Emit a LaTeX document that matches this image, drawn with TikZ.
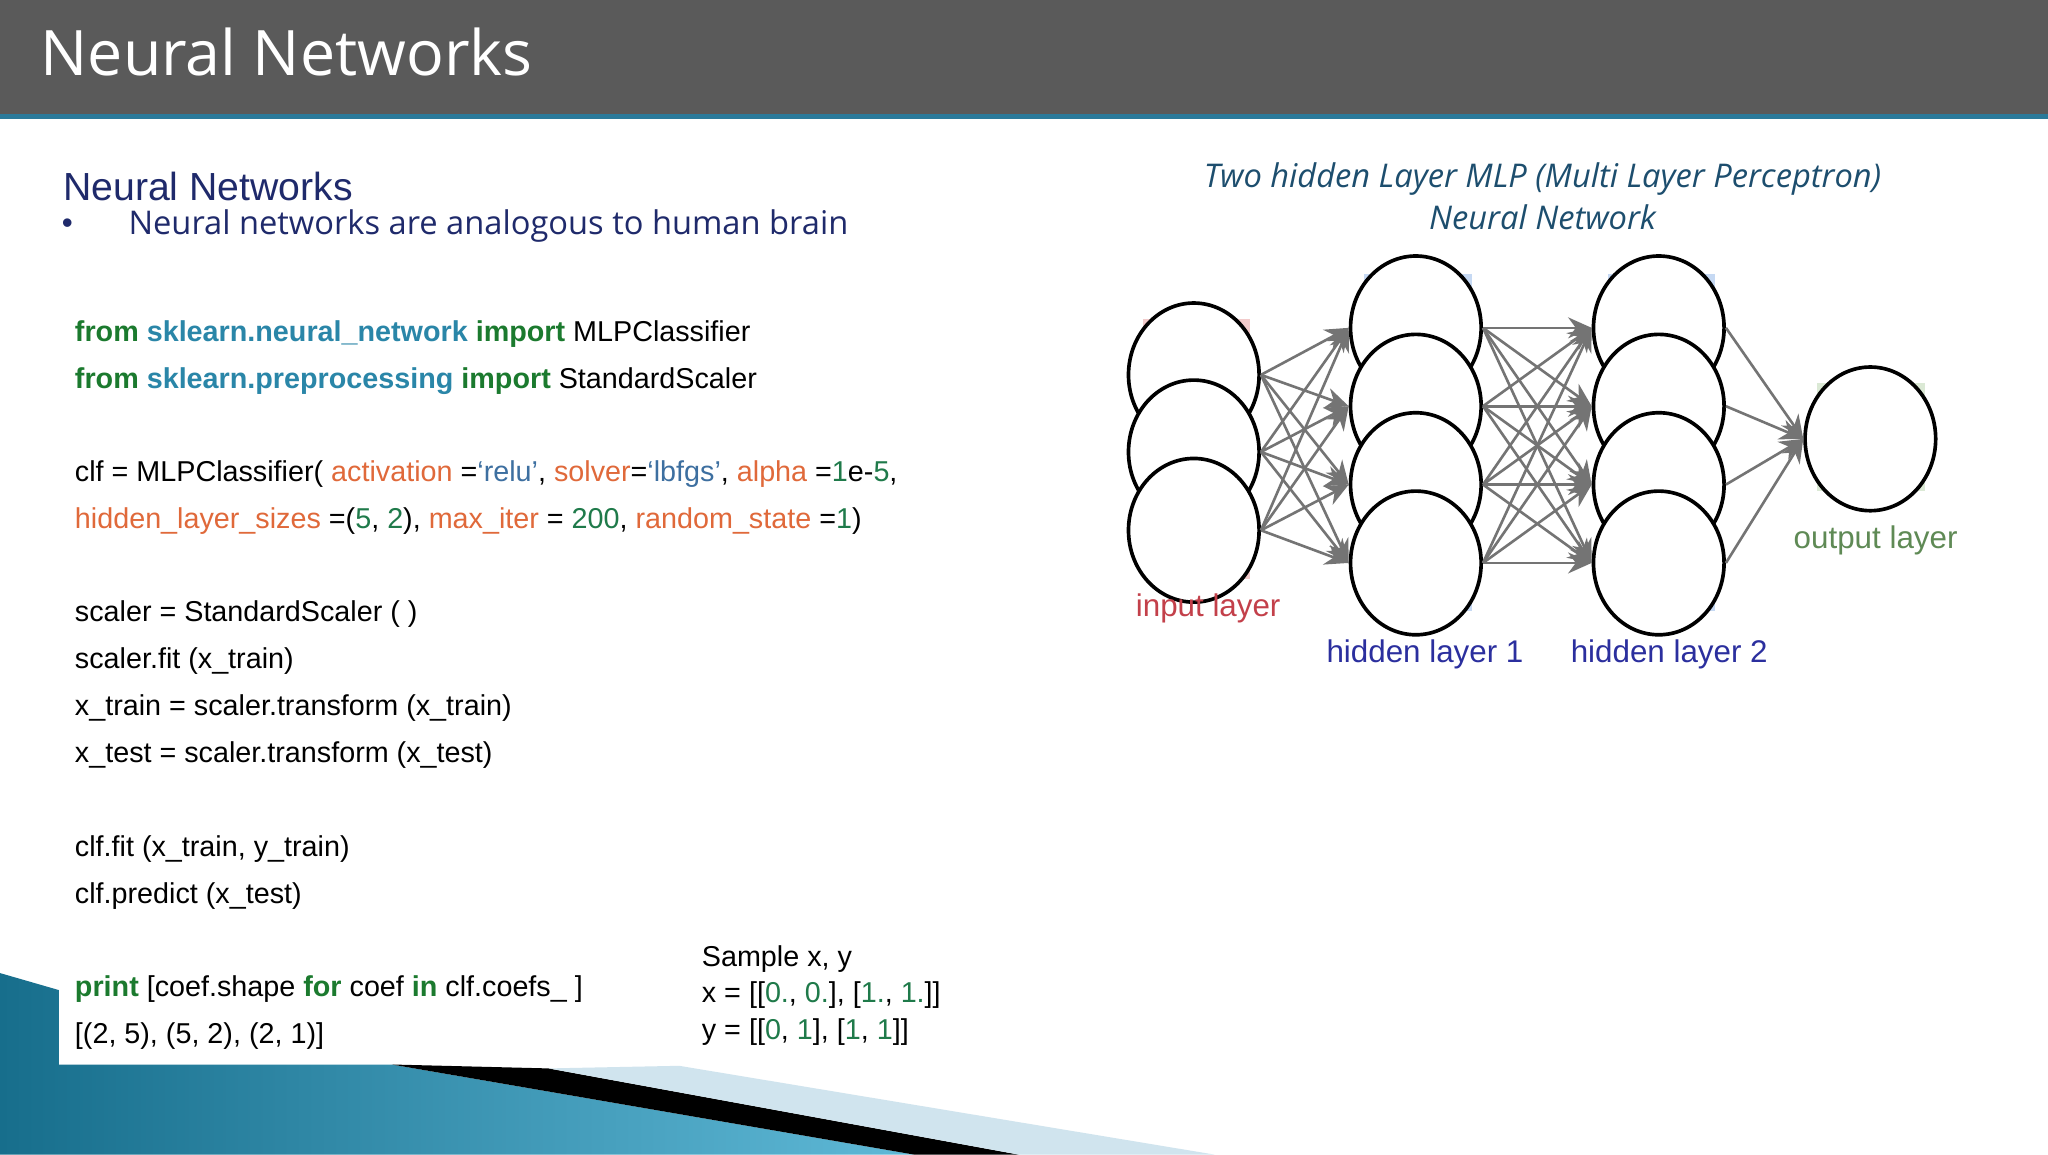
\documentclass[tikz,border=0pt]{standalone}
\usepackage{fontspec}
\setmainfont{Liberation Sans}
\newfontfamily\titlefont{Open Sans}
\usetikzlibrary{arrows.meta,shapes.geometric}
\definecolor{hdr}{HTML}{5A5A5A}
\definecolor{hdrline}{HTML}{2B7A9A}
\definecolor{navy}{HTML}{1F2A6B}
\definecolor{kw}{HTML}{1B7A2E}
\definecolor{mod}{HTML}{2A86A8}
\definecolor{par}{HTML}{E0693A}
\definecolor{str}{HTML}{3D6FA0}
\definecolor{num}{HTML}{1F7A4A}
\definecolor{ttl}{HTML}{1D4E6E}
\definecolor{inl}{HTML}{C3404A}
\definecolor{hidl}{HTML}{2B2F9E}
\definecolor{outl}{HTML}{5F8A55}
\definecolor{edge}{HTML}{747474}
\definecolor{tealA}{HTML}{176E8C}
\definecolor{tealB}{HTML}{5FB9D7}
\definecolor{lblue}{HTML}{D0E4EE}
\definecolor{pinkbg}{HTML}{F2CBCB}
\definecolor{bluebg}{HTML}{C6D9F3}
\definecolor{greenbg}{HTML}{DBE9D5}
\tikzset{
 code/.style={anchor=west,font=\fontsize{11}{13}\selectfont,inner sep=0pt},
 neuron/.style={draw=black,line width=1.4pt,fill=white,ellipse,minimum width=50,minimum height=55,inner sep=0pt},
 conn/.style={draw=edge,line width=1pt,-{Stealth[length=9,width=8]}},
 lab/.style={font=\fontsize{12}{14}\selectfont},
}
\newcommand{\K}[1]{\textcolor{kw}{\textbf{#1}}}
\newcommand{\M}[1]{\textcolor{mod}{\textbf{#1}}}
\newcommand{\Pa}[1]{\textcolor{par}{#1}}
\newcommand{\Nu}[1]{\textcolor{num}{#1}}
\newcommand{\St}[1]{\textcolor{str}{#1}}
\begin{document}
\begin{tikzpicture}[x=0.5pt,y=-0.5pt]
\useasboundingbox (0,0) rectangle (1568,884);
\fill[white] (0,0) rectangle (1568,884);
% header
\fill[hdr] (0,0) rectangle (1568,88);
\fill[hdrline] (0,87) rectangle (1568,91);
\node[anchor=west,text=white,font=\titlefont\fontsize{24}{28}\selectfont] (title) at (24,40) {Neural Networks};
% bottom decoration
\shade[left color=tealA, right color=tealB]
 (0,745) -- (45,758) -- (45,815) -- (300,815) -- (700,884) -- (0,884) -- cycle;
\fill[black] (300,815) -- (420,818) -- (780,884) -- (700,884) -- cycle;
\fill[lblue] (420,818) -- (520,816) -- (930,884) -- (780,884) -- cycle;
% left text
\node[anchor=west,text=navy,font=\fontsize{15}{18}\selectfont,inner sep=0pt] (sub) at (48,143) {Neural Networks};
\node[anchor=west,text=navy,font=\fontsize{12}{14}\selectfont,inner sep=0pt] (bul) at (47,173) {•};
\node[anchor=west,text=navy,font=\titlefont\fontsize{12.5}{15}\selectfont,inner sep=0pt] (bt) at (98,173) {Neural networks are analogous to human brain};
\node[code] (c1) at (57,256) {\K{from} \M{sklearn.neural\_network} \K{import} MLPClassifier};
\node[code] (c2) at (57,292) {\K{from} \M{sklearn.preprocessing} \K{import} StandardScaler};
\node[code] (c3) at (57,363) {clf = MLPClassifier( \Pa{activation} =\St{‘relu’}, \Pa{solver}=\St{‘lbfgs’}, \Pa{alpha} =\Nu{1}e-\Nu{5},};
\node[code] (c4) at (57,399) {\Pa{hidden\_layer\_sizes} =(\Nu{5}, \Nu{2}), \Pa{max\_iter} = \Nu{200}, \Pa{random\_state} =\Nu{1})};
\node[code] (c5) at (57,470) {scaler = StandardScaler ( )};
\node[code] (c6) at (57,506) {scaler.fit (x\_train)};
\node[code] (c7) at (57,542) {x\_train = scaler.transform (x\_train)};
\node[code] (c8) at (57,578) {x\_test = scaler.transform (x\_test)};
\node[code] (c9) at (57,650) {clf.fit (x\_train, y\_train)};
\node[code] (c10) at (57,686) {clf.predict (x\_test)};
\node[code] (c11) at (57,757) {\K{print} [coef.shape \K{for} coef \K{in} clf.coefs\_ ]};
\node[code] (c12) at (57,793) {[(2, 5), (5, 2), (2, 1)]};
\node[code] (s1) at (537,734) {Sample x, y};
\node[code] (s2) at (537,762) {x = [[\Nu{0.}, \Nu{0.}], [\Nu{1.}, \Nu{1.}]]};
\node[code] (s3) at (537,790) {y = [[\Nu{0}, \Nu{1}], [\Nu{1}, \Nu{1}]]};
% right title
\node[text=ttl,font=\titlefont\itshape\fontsize{12.5}{16}\selectfont,align=center] (rt) at (1181,150) {Two hidden Layer MLP (Multi Layer Perceptron)\\Neural Network};
% layer backgrounds
\fill[pinkbg] (875,244) rectangle (957,443);
\fill[bluebg] (1044,210) rectangle (1127,468);
\fill[bluebg] (1231,210) rectangle (1313,468);
\fill[greenbg] (1391,293) rectangle (1474,376);
% neurons
\foreach \i/\y in {1/287,2/346,3/406} \node[neuron] (i\i) at (914,\y) {};
\foreach \i/\y in {1/251,2/311,3/371,4/431} {
 \node[neuron] (a\i) at (1084,\y) {};
 \node[neuron] (b\i) at (1270,\y) {};
}
\node[neuron] (o) at (1432,336) {};
% connections
\foreach \s in {1,2,3} \foreach \t in {1,2,3,4} \draw[conn] (i\s.east) -- (a\t.west);
\foreach \s in {1,2,3,4} \foreach \t in {1,2,3,4} \draw[conn] (a\s.east) -- (b\t.west);
\foreach \s in {1,2,3,4} \draw[conn] (b\s.east) -- (o.west);
% labels
\node[lab,text=inl] (li) at (925,466) {input layer};
\node[lab,text=hidl] (lh1) at (1091,501) {hidden layer 1};
\node[lab,text=hidl] (lh2) at (1278,501) {hidden layer 2};
\node[lab,text=outl] (lo) at (1436,414) {output layer};
\end{tikzpicture}
\end{document}
